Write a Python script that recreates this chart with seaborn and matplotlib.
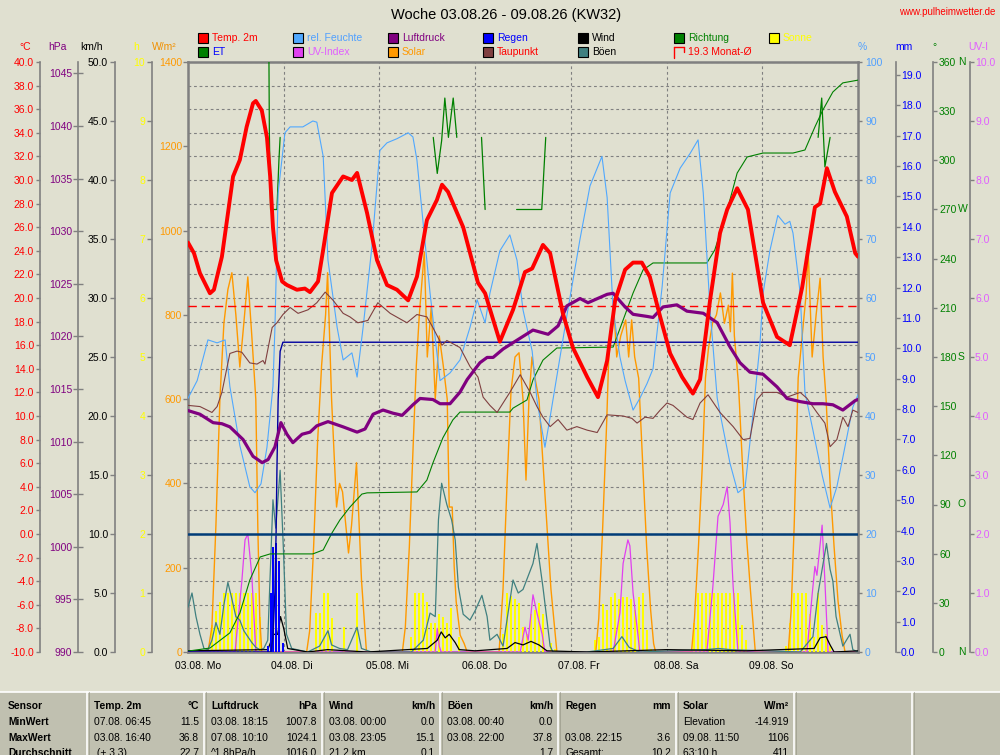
import matplotlib
matplotlib.use("Agg")
import matplotlib.pyplot as plt
import matplotlib.transforms as mtransforms
from matplotlib.patches import Rectangle
from matplotlib.lines import Line2D
from matplotlib import font_manager
import numpy as np
import seaborn as sns

# ---------------- data (hours since 03.08. 00:00, value) ----------------
day_labels = ["03.08. Mo", "04.08. Di", "05.08. Mi", "06.08. Do", "07.08. Fr", "08.08. Sa", "09.08. So"]
day_hours = [0, 24, 48, 72, 96, 120, 144]

temp_pts = [(0,24.7),(1.5,23.8),(3,22.1),(5.5,20.4),(6.5,20.7),(8.5,23.5),(11.3,30.3),(13.0,31.7),(14.7,34.5),
            (16.3,36.5),(17.0,36.7),(18.5,35.9),(19.8,33.6),(20.6,30.3),(21.3,26.0),(22.1,23.2),(23.6,21.4),
            (24.8,21.1),(27.3,20.7),(29.3,20.8),(30.6,20.5),(32.6,21.4),(33.9,24.1),(36.1,28.9),(38.9,30.3),
            (41.1,30.0),(42.4,30.6),(44.9,27.2),(47.4,23.2),(49.9,21.1),(52.4,20.7),(55.2,19.8),(57.4,21.8),
            (59.9,26.6),(62.4,28.3),(63.7,29.6),(65.2,29.0),(69.0,26.0),(72.7,21.3),(74.5,20.4),(78.2,16.3),
            (81.5,19.0),(84.5,22.2),(86.3,22.5),(89.0,24.5),(90.8,23.8),(94.0,18.7),(96.5,15.8),(100.1,13.3),
            (102.8,11.6),(105.1,14.7),(107.1,19.8),(109.6,22.4),(111.6,23.0),(113.8,23.0),(115.8,21.8),
            (118.4,18.4),(120.9,15.3),(123.9,13.3),(126.6,11.9),(128.4,13.1),(130.9,19.8),(133.4,25.5),
            (135.2,27.5),(137.7,29.3),(140.4,27.5),(144.2,19.6),(147.7,16.7),(150.9,16.0),(154.0,20.9),
            (157.2,27.7),(158.5,28.0),(160.2,31.0),(162.2,29.0),(165.2,26.9),(167.3,23.8),(168,23.5)]

dew_pts = [(0,10.9),(3.0,10.8),(6.0,10.3),(7.3,10.8),(8.5,12.0),(10.5,15.3),(12.3,15.5),(13.5,15.4),(15.5,14.5),
           (17.3,14.4),(18.8,14.7),(19.3,14.4),(21.1,17.5),(22.3,17.9),(23.8,18.6),(25.6,19.2),(27.6,18.7),
           (30.1,19.0),(32.3,19.6),(34.4,20.5),(36.4,19.8),(38.9,18.7),(40.6,18.4),(42.6,17.9),(45.1,18.1),
           (47.6,19.6),(50.7,18.7),(54.9,17.9),(57.4,18.6),(59.9,18.4),(61.4,17.5),(63.7,16.0),(64.9,16.4),
           (68.2,15.8),(70.7,14.2),(72.7,13.3),(74.0,11.6),(75.7,10.9),(77.5,10.3),(79.0,11.1),(80.7,12.0),
           (83.3,13.5),(85.8,12.0),(87.5,10.8),(89.0,9.9),(90.8,9.1),(92.8,9.7),(95.0,8.8),(97.5,9.1),
           (100.1,8.8),(102.6,8.6),(105.1,10.1),(109.1,10.0),(111.3,9.8),(112.6,9.4),(114.6,9.9),(116.6,9.8),
           (118.4,10.5),(120.1,11.1),(121.6,10.9),(125.1,9.9),(126.6,9.7),(128.4,11.1),(130.4,11.8),
           (133.4,10.3),(136.7,9.1),(139.2,8.0),(140.9,8.1),(142.7,11.4),(144.2,12.0),(147.7,12.0),
           (150.2,11.6),(153.5,12.0),(155.2,11.5),(157.7,10.3),(159.7,9.4),(161.0,7.4),(162.7,8.0),
           (164.2,9.9),(165.5,9.1),(166.7,10.5),(168,10.3)]

hum_pts = [(0,43),(2.3,46),(5.0,52.9),(7.3,52.4),(9.3,52.9),(10.5,45),(13.0,35),(15.5,28),(16.8,27),(18.3,28.5),
           (19.8,34.7),(21.3,45),(21.8,55),(22.6,77.8),(24.3,88),(25.6,89),(28.8,89),(31.3,90),(32.3,89.8),
           (33.9,84),(35.1,66.4),(37.4,55),(38.9,49.5),(41.1,50.7),(42.4,46.6),(43.9,55),(46.1,68.6),(48.1,85),
           (49.9,86.3),(52.4,87),(55.2,88),(56.4,87.3),(57.4,83.4),(60.7,60.8),(63.2,46),(65.7,47.3),(68.2,49.5),
           (70.7,55),(72.5,59.7),(74.5,55.8),(75.7,60.8),(78.2,68),(80.7,70.7),(82.5,66.4),(84.0,58),(86.3,51),
           (87.5,42.7),(89.5,34.7),(90.8,39.8),(91.5,42.7),(95.0,57),(98.3,70),(100.8,79),(103.8,84),(105.1,77),
           (106.6,58),(108.3,50),(109.6,46),(111.6,41),(113.3,43),(115.1,45.5),(116.6,48),(118.9,62),(120.9,77.8),
           (123.4,82),(125.9,84.5),(127.9,86.8),(129.2,77.8),(130.9,58),(132.7,43),(133.4,40.5),(135.9,32),
           (137.9,27),(139.7,28),(141.7,40.5),(143.4,52),(144.2,60.8),(145.9,68),(147.9,74),(149.7,72.5),
           (150.9,73),(151.7,71),(153.5,60.8),(154.7,44),(156.7,37.6),(159.0,30),(161.0,24.4),(162.7,28),
           (164.2,33),(166.7,41.5),(168,43.6)]

press_pts = [(0,1012.95),(3.0,1012.6),(6.3,1011.8),(8.5,1011.7),(10.5,1011.4),(13.8,1010.2),(16.3,1008.6),
             (18.6,1008.0),(20.1,1008.3),(21.8,1009.5),(23.3,1011.8),(24.8,1010.7),(26.3,1009.9),(28.6,1010.7),
             (30.6,1010.9),(32.3,1011.5),(35.1,1011.9),(38.9,1011.4),(42.4,1010.9),(44.4,1011.2),(46.4,1012.6),
             (48.9,1013.0),(51.4,1012.7),(53.7,1012.5),(56.4,1013.5),(58.2,1014.1),(61.4,1014.0),(63.2,1013.6),
             (65.7,1013.6),(68.2,1014.7),(70.0,1015.9),(73.2,1017.5),(75.0,1018.0),(76.5,1018.0),(79.0,1018.8),
             (81.5,1019.4),(84.0,1020.0),(86.5,1020.6),(90.3,1020.2),(92.8,1021.0),(95.0,1022.9),(98.3,1023.6),
             (100.3,1023.2),(103.3,1023.7),(105.1,1024.0),(106.6,1024.1),(109.6,1022.8),(111.6,1022.1),
             (115.1,1021.9),(116.6,1021.8),(119.1,1022.8),(122.6,1023.0),(125.1,1022.4),(129.2,1022.2),
             (132.7,1021.3),(135.9,1019.0),(138.4,1017.5),(140.9,1016.6),(144.2,1016.4),(147.7,1015.2),
             (150.2,1014.1),(153.5,1013.8),(156.7,1013.6),(159.2,1013.6),(161.7,1013.5),(164.2,1013.0),
             (167.3,1013.9),(168,1014.0)]

solar_pts = [(0,0),(5,0),(6,60),(7,300),(8,600),(9,780),(10,860),(11,900),(12,800),(13,676),(14,780),(15,890),
             (16,750),(17,600),(17.5,300),(18,80),(18.5,0),
             (29.75,0),(30.5,50),(31.5,250),(32.5,500),(33.5,680),(34.5,800),(35,900),(36,600),(37.25,344),
             (38,400),(38.75,380),(40.25,235),(41,300),(42.25,449),(43.5,171),(44.75,0),
             (53.75,0),(54.5,60),(55.5,250),(56.5,500),(57.25,680),(58,800),(59.25,949),(60,700),(61,820),
             (62,600),(63,750),(64,680),(65,600),(65.5,344),(66.25,344),(66.75,202),(67.25,119),(68.25,40),
             (69.25,20),(70,0),
             (78,0),(79,150),(80,400),(81,620),(82,700),(83,710),(84,600),(84.75,408),(85.5,600),(86.25,700),
             (87,650),(88,600),(89,450),(90,300),(91,150),(92,50),(92.5,0),
             (102.25,0),(103,80),(104,300),(105,550),(105.5,700),(106.75,819),(107.5,700),(108.5,750),
             (109.75,788),(110.5,700),(111.25,788),(112,700),(113,650),(114,450),(115,250),(116,100),
             (116.75,20),(117.25,0),
             (126.25,0),(127,80),(128,250),(129,450),(129.75,650),(130.5,720),(131.5,780),(132.5,800),
             (133.5,852),(134.5,780),(135.5,823),(136,760),(136.5,899),(137,750),(138,640),(139,450),
             (140,280),(141,150),(141.75,60),(142.25,0),
             (150.5,0),(151.25,100),(152,300),(153,650),(154,750),(155,850),(155.5,954),(156.5,700),
             (157.5,800),(158.5,887),(159.25,700),(160,600),(161,400),(162,250),(163,120),(164,40),
             (164.75,0),(168,0)]

uv_pts = [(0,0),(11.8,0),(12.5,0.5),(13.5,1.2),(14.3,1.9),(15.0,2.0),(16.0,1.3),(17.0,0),
          (62.0,0),(62.5,0.4),(63.0,0.1),(63.5,0),
          (83.3,0),(84.5,0.42),(85.3,0.2),(86.5,0.97),(87.5,0.66),(88.8,0.3),(89.5,0),
          (106.6,0),(108.3,0.66),(109.1,1.5),(110.3,1.9),(110.8,1.8),(111.6,1.0),(112.6,0.42),(113.3,0),
          (130.1,0),(131.6,1.1),(132.9,2.3),(134.2,2.5),(135.2,2.8),(135.9,2.2),(136.7,1.1),(137.9,0),
          (155.2,0),(156.5,0.97),(157.2,1.45),(157.7,1.3),(159.0,2.15),(159.7,1.2),(160.5,0),(168,0)]

gust_pts = [(0,3.8),(1,5.0),(2,3.0),(3,1.5),(4,0.3),(5,0.2),(6,1.0),(7,2.5),(8,1.5),(9,4.0),(10,5.9),(11,4.5),
            (12,3.0),(13,2.7),(14,1.8),(15,1.3),(16,0.8),(17,0.4),(18,0.2),(19,0.3),(20,1.0),(21.3,12.9),
            (22,10.5),(23.1,15.4),(23.9,8.9),(24.7,1.5),(26,0.3),(30,0.0),(33,0.5),(35.1,1.8),(36,0.6),(38,0.3),
            (40,0.2),(42.4,2.1),(43.5,0.3),(46,0.0),(56,0.0),(59,1.0),(60.7,3.3),(62,3.0),(62.8,11.2),
            (63.6,14.3),(64.9,12.5),(66.1,11.2),(67,9.5),(67.8,5.5),(69,3.2),(70.7,2.7),(72,3.5),(73.7,4.8),
            (75,3.0),(75.7,1.0),(77.5,1.5),(79,0.5),(81.5,6.1),(82.8,5.0),(84,5.3),(86.5,7.5),(87.5,9.2),
            (89,5.5),(90.8,0.5),(91.5,0.0),(100,0.0),(106.6,0.3),(108.8,1.3),(110.6,0.4),(113.3,0.0),
            (130,0.2),(133,0.3),(136,0.2),(153.5,0.0),(156.7,1.3),(158,5.0),(159,7.0),(160.1,9.2),(161,7.0),
            (161.7,6.0),(162.5,3.0),(164.2,0.5),(166,1.5),(166.7,0.2),(168,0.0)]

wind_pts = [(0,0.1),(20,0.2),(21.5,1.5),(22.5,1.5),(23.2,3.0),(24,2.0),(25,0.3),(30,0.0),(35,0.2),(45,0.0),
            (60,0.3),(62.5,1.0),(63.5,1.7),(64.5,1.2),(65.5,1.5),(67,0.8),(68,0.2),(72,0.1),(80,0.3),(82,0.8),
            (84,0.6),(86,0.9),(88,0.6),(90,0.1),(100,0.0),(120,0.2),(140,0.1),(157,0.3),(158.5,1.2),
            (160,1.3),(161,0.6),(162,0.0),(168,0.1)]

dir_segments = [
    [(20.3,360),(20.4,317),(20.7,270),(21.3,270),(22.3,270),(22.8,300),(23.1,314)],
    [(61.5,314),(62.5,292),(63.6,312),(64.4,338),(65.3,314),(66.5,338),(67.4,314)],
    [(73.6,314),(74.5,270)],
    [(82.4,270),(88.7,270),(89.7,314)],
    [(158.0,314),(158.9,338),(159.7,296),(161.0,314)],
]

et_pts = [(0,0.03),(5.5,0.13),(10.5,0.63),(13,1.28),(15.5,2.37),(18.1,3.13),(20.6,3.23),(31.3,3.23),(33.9,3.36),
          (36.1,3.92),(38.1,4.35),(40.6,4.77),(43.6,5.20),(44.9,5.24),(57.4,5.27),(59.9,5.66),(61.4,6.22),
          (63.9,7.05),(66.4,7.64),(68.2,7.90),(80.7,7.90),(81.5,8.03),(85,8.30),(86.5,8.96),(89,9.61),
          (92.5,10.01),(106.6,10.04),(109.1,10.93),(111.6,11.82),(114.1,12.58),(116.6,12.81),(130.1,12.81),
          (132.1,13.24),(135.2,14.55),(137.7,15.77),(140.2,16.30),(144.2,16.43),(151.7,16.43),(154.7,16.53),
          (157.2,17.29),(159.2,17.85),(161.7,18.44),(164.2,18.74),(168,18.83)]

rain_cum_pts = [(0,0),(20.8,0),(21.3,0.5),(21.8,2.0),(22.1,4.0),(22.3,6.0),(22.6,8.3),(23.1,9.9),(23.8,10.2),(168,10.2)]
rain_bar_h = [20.1, 20.8, 21.2, 22.1, 22.9, 23.7]
rain_bar_v = [0.2, 1.95, 3.45, 3.6, 3.0, 0.3]

sun_h = [6,7,8,9,10,11,12,13,14,15,16,17,18,
         32,33,34,35,36,39,42.3,
         56,57,58,59,60,61,62,63,64,65,66,68,
         79,80,81,82,83,84,85,86,87,88,89,91,92,
         102,103,104,105,106,107,108,109,110,111,112,113,114,115,116,
         127,128,129,130,131,132,133,134,135,136,137,138,139,140,
         150,151,152,153,154,155,156,157,158,159,160,161]
sun_v = [0.45,0.7,0.85,1,1,1,1,1,1,1,1,1,0.6,
         0.66,0.66,1.0,1.0,0.58,0.42,1.0,
         0.25,1,1,1,0.85,0.5,0.5,0.65,0.6,0.5,0.75,0.25,
         0.3,1.0,0.95,0.9,0.83,0.42,0.3,0.65,0.72,0.83,0.65,0.15,0.05,
         0.2,0.25,0.82,0.72,0.93,1.0,0.9,0.93,0.93,0.9,0.72,0.93,1.0,0.38,0.05,
         0.5,1,1,1,1,1,1,1,1,1,1,1,0.45,0.2,
         0.1,0.5,1,1,1,1,0.65,0.25,1.0,0.45,0.3,0.1]

month_mean_temp = 19.3
ref_line_pct = 20.0

table_cols = [("Sensor", ""), ("Temp. 2m", "°C"), ("Luftdruck", "hPa"), ("Wind", "km/h"),
              ("Böen", "km/h"), ("Regen", "mm"), ("Solar", "W/m²")]
table_rows = ["MinWert", "MaxWert", "Durchschnitt"]
table_left = [["07.08. 06:45", "03.08. 18:15", "03.08. 00:00", "03.08. 00:40", "", "Elevation"],
              ["03.08. 16:40", "07.08. 10:10", "03.08. 23:05", "03.08. 22:00", "03.08. 22:15", "09.08. 11:50"],
              [" (+ 3.3)", "^1.8hPa/h", "21.2 km", "", "Gesamt:", "63:10 h"]]
table_right = [["11.5", "1007.8", "0.0", "0.0", "", "-14.919"],
               ["36.8", "1024.1", "15.1", "37.8", "3.6", "1106"],
               ["22.7", "1016.0", "0.1", "1.7", "10.2", "411"]]

# ---------------- style ----------------
sns.set_style("white")
plt.rcParams['font.family'] = ['Liberation Sans', 'DejaVu Sans']
BG = '#E0E0D0'
GRAY = '#808080'
C_T, C_HUM, C_P, C_RAIN, C_WIND = '#FF0000', '#50A8FF', '#800080', '#0000FF', '#000000'
C_DIR, C_SUN, C_UV, C_SOL, C_DEW, C_GUST = '#008000', '#FFFF00', '#E040F0', '#FF9900', '#804040', '#408080'

fig = plt.figure(figsize=(10, 7.55), dpi=100, facecolor=BG)
W, H = 1000, 755
def fx(x): return x / W
def fy(y): return 1 - y / H
def px2pt(p): return p * 0.72

L, R, T, B = 188, 858, 62, 652
ax = fig.add_axes([fx(L), fy(B), (R - L) / W, (B - T) / H])
ax.set_facecolor('none')
ax.set_zorder(0)
ax.set_xlim(0, 168)
ax.set_ylim(-10, 40)
ax.set_yticks(np.arange(-10, 41, 2))
ax.set_xticks(day_hours)
ax.set_xticklabels([])
ax.tick_params(axis='y', length=0, labelleft=False, labelright=False)
ax.tick_params(axis='x', length=px2pt(4), color=GRAY, width=1)
ax.grid(True, color=GRAY, linestyle=(0, (2.5, 2.5)), linewidth=0.8)
for s in ax.spines.values():
    s.set_color(GRAY); s.set_linewidth(1.8)

lab_tr = mtransforms.blended_transform_factory(ax.transData, ax.transAxes) + \
    mtransforms.ScaledTranslation(-13 / 100, -14 / 100, fig.dpi_scale_trans)
for hh, lab in zip(day_hours, day_labels):
    ax.text(hh, 0, lab, transform=lab_tr, ha='left', va='center', fontsize=7.5, color='black')

def make_axis(ylim, zorder, side=None, pos=0, color='k', ticks=None, labels=None,
              length=4, pad=2, direction='out', spine=True):
    t = ax.twinx()
    t.set_zorder(zorder)
    t.patch.set_visible(False)
    for s in t.spines.values():
        s.set_visible(False)
    t.set_ylim(*ylim)
    if side is None:
        t.set_yticks([])
        t.tick_params(axis='y', length=0, labelright=False, labelleft=False)
        return t
    if side == 'left':
        t.yaxis.tick_left()
    else:
        t.yaxis.tick_right()
    sp = t.spines[side]
    sp.set_position(('axes', pos))
    sp.set_visible(spine)
    sp.set_color(GRAY)
    sp.set_linewidth(1.2)
    t.set_yticks(ticks)
    t.set_yticklabels(labels)
    t.tick_params(axis='y', direction=direction, length=px2pt(length), width=1, color=GRAY,
                  labelcolor=color, labelsize=7.5, pad=px2pt(pad))
    t.set_ylim(*ylim)
    return t

def pos(xpix): return (xpix - L) / (R - L)

ylim_c = (-10, 40)
ylim_p = (990, 990 + 590 / 10.52)
ylim_kmh = (0, 50)
ylim_h = (0, 10)
ylim_w = (0, 1400)
ylim_pct = (0, 100)
ylim_mm = (0, 590 / 30.37)
ylim_dir = (0, 360)
ylim_uv = (0, 10)

ax_h = make_axis(ylim_h, 1, 'left', pos(152), '#FFFF00', np.arange(0, 11, 1),
                 [str(v) for v in range(0, 11)], length=5, pad=2)
ax_w = make_axis(ylim_w, 2, 'left', 0.0, C_SOL, np.arange(0, 1401, 200),
                 [str(v) for v in range(0, 1401, 200)], length=5, pad=1, spine=False)
ax_uv = make_axis(ylim_uv, 3, 'right', pos(970), '#E060FF', np.arange(0, 11, 1),
                  [f"{v:.1f}" for v in range(0, 11)], length=4, pad=1)
ax_kmh = make_axis(ylim_kmh, 4, 'left', pos(115), 'black', np.arange(0, 51, 5),
                   [f"{v:.1f}" for v in range(0, 51, 5)], length=5, pad=2)
ax_mm = make_axis(ylim_mm, 5, 'right', pos(896), C_RAIN, np.arange(0, 20, 1),
                  [f"{v:.1f}" for v in range(0, 20)], length=4, pad=1)
dir_ticks = np.arange(0, 361, 30)
ax_dir = make_axis(ylim_dir, 6, 'right', pos(933), C_DIR, dir_ticks,
                   [str(v) for v in dir_ticks], length=4, pad=2)
ax_pct = make_axis(ylim_pct, 7, 'right', 1.0, '#50A0FF', np.arange(0, 101, 10),
                   [str(v) for v in range(0, 101, 10)], length=4, pad=3, spine=False)
ax_c = make_axis(ylim_c, 8, 'left', pos(40), C_T, np.arange(-10, 41, 2),
                 [f"{v:.1f}" for v in range(-10, 41, 2)], length=4, pad=2)
ax_p = make_axis(ylim_p, 9, 'left', pos(78), C_P, np.arange(990, 1046, 5),
                 [str(v) for v in range(990, 1046, 5)], length=10, pad=1, direction='inout')
ax_t = make_axis(ylim_c, 10)

def split(pts):
    return [p[0] for p in pts], [p[1] for p in pts]

def line(axx, pts, color, lw, **kw):
    xs, ys = split(pts)
    sns.lineplot(x=xs, y=ys, ax=axx, color=color, linewidth=lw, estimator=None, sort=False, **kw)

# sunshine bars (thin hourly columns)
ax_h.vlines(sun_h, 0, sun_v, colors=C_SUN, linewidth=px2pt(1.7), antialiased=False)
# solar
line(ax_w, solar_pts, C_SOL, 1.0)
# UV
line(ax_uv, uv_pts, C_UV, 0.9)
# gusts & wind
line(ax_kmh, gust_pts, C_GUST, 0.9)
line(ax_kmh, wind_pts, C_WIND, 0.9)
# rain, ET
ax_mm.vlines(rain_bar_h, 0, rain_bar_v, colors=C_RAIN, linewidth=px2pt(1.7), antialiased=False)
line(ax_mm, et_pts, C_DIR, 0.8)
line(ax_mm, rain_cum_pts, '#0000A0', 1.0)
# direction
for seg in dir_segments:
    line(ax_dir, seg, C_DIR, 0.9)
# humidity
line(ax_pct, hum_pts, C_HUM, 0.8)
ax_pct.axhline(ref_line_pct, color='#003C78', linewidth=1.8)
# dewpoint, month mean
line(ax_c, dew_pts, C_DEW, 0.8)
ax_c.axhline(month_mean_temp, color=C_T, linewidth=1.0, linestyle=(0, (6, 3.5)))
# pressure
line(ax_p, press_pts, C_P, 2.3)
# temperature
line(ax_t, temp_pts, C_T, 2.8)

for a, yl in [(ax_h, ylim_h), (ax_w, ylim_w), (ax_uv, ylim_uv), (ax_kmh, ylim_kmh), (ax_mm, ylim_mm),
              (ax_dir, ylim_dir), (ax_pct, ylim_pct), (ax_c, ylim_c), (ax_p, ylim_p), (ax_t, ylim_c)]:
    a.set_ylim(*yl)
    a.set_xlim(0, 168)
    a.set_xlabel(''); a.set_ylabel('')

# compass letters on direction axis
dir_letters = [(0, 'N'), (90, 'O'), (180, 'S'), (270, 'W'), (360, 'N')]
let_tr = mtransforms.blended_transform_factory(fig.transFigure, ax_dir.transData)
for v, s in dir_letters:
    ax_dir.text(fx(958), v, s, transform=let_tr, ha='left', va='center', fontsize=7.5, color=C_DIR, clip_on=False)

# ---------------- titles / legend ----------------
fig.text(fx(506), fy(15), "Woche 03.08.26 - 09.08.26 (KW32)", ha='center', va='center', fontsize=10.5, color='black')
fig.text(fx(995), fy(12), "www.pulheimwetter.de", ha='right', va='center', fontsize=7, color='#FF0000')

axis_titles = [(25, "°C", C_T), (57.5, "hPa", C_P), (91.5, "km/h", 'black'), (136.5, "h", '#FFFF00'),
               (164.5, "W/m²", '#F09000'), (862, "%", '#50A0FF'), (903.5, "mm", C_RAIN), (934, "°", C_DIR),
               (978.5, "UV-I", '#E060FF')]
for xx, s, c in axis_titles:
    fig.text(fx(xx), fy(47), s, ha='center', va='center', fontsize=7.5, color=c)

legend_items = [
    (198, 38, C_T, "Temp. 2m", C_T), (293, 38, C_HUM, "rel. Feuchte", '#50A0FF'),
    (388, 38, C_P, "Luftdruck", C_P), (483, 38, C_RAIN, "Regen", C_RAIN),
    (578, 38, C_WIND, "Wind", 'black'), (674, 38, C_DIR, "Richtung", C_DIR),
    (769, 38, C_SUN, "Sonne", '#FFFF00'),
    (198, 52, C_DIR, "ET", C_RAIN), (293, 52, C_UV, "UV-Index", '#E060FF'),
    (388, 52, C_SOL, "Solar", C_SOL), (483, 52, C_DEW, "Taupunkt", C_T),
    (578, 52, C_GUST, "Böen", 'black'),
]
for xx, yy, fc, s, tc in legend_items:
    fig.add_artist(Rectangle((fx(xx), fy(yy + 5)), 10 / W, 10 / H, transform=fig.transFigure,
                             facecolor=fc, edgecolor='black', linewidth=0.8))
    fig.text(fx(xx + 14), fy(yy), s, ha='left', va='center', fontsize=7.5, color=tc)
# month mean symbol
for xs, ys in [([674, 674], [58, 47]), ([674, 684], [47, 47]), ([684, 684], [47, 52])]:
    fig.add_artist(Line2D([fx(v) for v in xs], [fy(v) for v in ys], transform=fig.transFigure,
                          color=C_T, linewidth=1.0))
fig.text(fx(688), fy(52), f"{month_mean_temp:.1f} Monat-Ø", ha='left', va='center', fontsize=7.5, color=C_T)

# ---------------- table ----------------
names = {f.name for f in font_manager.fontManager.ttflist}
if 'Liberation Sans Narrow' in names:
    tfont, tsize = ['Liberation Sans Narrow', 'DejaVu Sans'], 8.2
else:
    tfont, tsize = ['Liberation Sans', 'DejaVu Sans'], 7.4

fig.add_artist(Rectangle((0, 0), 1, fy(692), transform=fig.transFigure, facecolor='#C0C0B0', edgecolor='none'))
fig.add_artist(Line2D([0, 1], [fy(692), fy(692)], transform=fig.transFigure, color='white', linewidth=1.2))
seps = [87, 204, 322, 440, 558, 676, 794, 912]
for sx in seps:
    fig.add_artist(Line2D([fx(sx), fx(sx)], [0, fy(692)], transform=fig.transFigure, color='white', linewidth=1.2))
    fig.add_artist(Line2D([fx(sx + 1.5), fx(sx + 1.5)], [0, fy(692)], transform=fig.transFigure,
                          color='#A0A090', linewidth=0.6))

row_y = [705.7, 722, 738, 752.5]
fig.text(fx(8), fy(row_y[0]), table_cols[0][0], ha='left', va='center', fontsize=tsize, family=tfont,
         fontweight='bold', color='black')
for i, rl in enumerate(table_rows):
    fig.text(fx(8), fy(row_y[i + 1]), rl, ha='left', va='center', fontsize=tsize, family=tfont,
             fontweight='bold', color='black')
for c in range(1, 7):
    x_l = seps[c - 1] + 7
    x_r = seps[c] - 5
    fig.text(fx(x_l), fy(row_y[0]), table_cols[c][0], ha='left', va='center', fontsize=tsize, family=tfont,
             fontweight='bold', color='black')
    fig.text(fx(x_r), fy(row_y[0]), table_cols[c][1], ha='right', va='center', fontsize=tsize, family=tfont,
             fontweight='bold', color='black')
    for r in range(3):
        fig.text(fx(x_l), fy(row_y[r + 1]), table_left[r][c - 1], ha='left', va='center', fontsize=tsize,
                 family=tfont, color='black')
        fig.text(fx(x_r), fy(row_y[r + 1]), table_right[r][c - 1], ha='right', va='center', fontsize=tsize,
                 family=tfont, color='black')

fig.savefig("out.png", dpi=100, facecolor=BG)
